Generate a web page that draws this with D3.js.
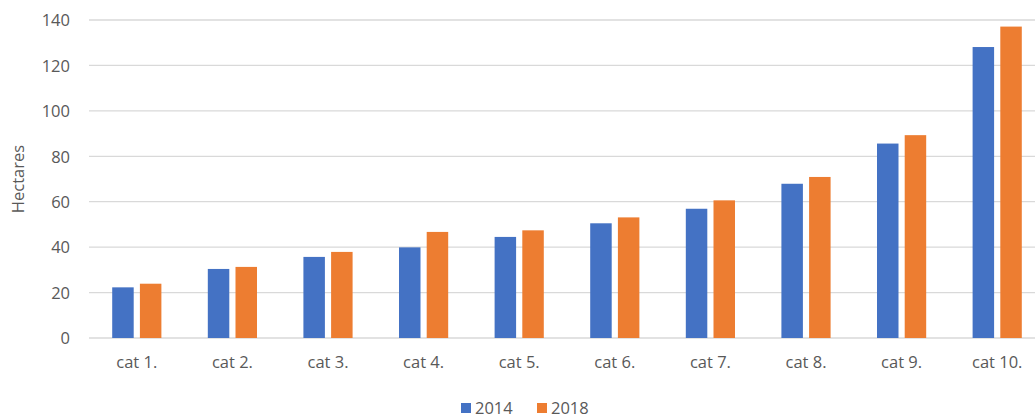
<!DOCTYPE html>
<html>
<head>
<meta charset="utf-8">
<script src="https://cdn.jsdelivr.net/npm/d3@7"></script>
<style>
  html, body { margin: 0; padding: 0; background: #fff; }
  svg { display: block; }
  text { font-family: "Open Sans", "Noto Sans", sans-serif; fill: #595959; }
</style>
</head>
<body>
<svg id="chart" width="1035" height="419"></svg>
<script>
const categories = ["cat 1.", "cat 2.", "cat 3.", "cat 4.", "cat 5.", "cat 6.", "cat 7.", "cat 8.", "cat 9.", "cat 10."];
const seriesNames = ["2014", "2018"];
const values2014 = [22.3, 30.4, 35.7, 39.9, 44.5, 50.5, 56.9, 67.9, 85.6, 128.1];
const values2018 = [23.9, 31.3, 37.9, 46.7, 47.4, 53.1, 60.6, 70.9, 89.3, 137.1];
const yTicks = [0, 20, 40, 60, 80, 100, 120, 140];
const colors = ["#4472C4", "#ED7D31"];

const svg = d3.select("#chart");
const plotLeft = 89, plotRight = 1045, plotTop = 20, plotBottom = 338;
const fontSize = "16.5px";

const x0 = d3.scaleBand().domain(categories).range([plotLeft, plotRight]).padding(0);
const x1 = d3.scaleBand().domain(seriesNames).range([0, x0.bandwidth()])
  .paddingInner(0.224).paddingOuter(0.838);
const y = d3.scaleLinear().domain([0, 140]).range([plotBottom, plotTop]);
const color = d3.scaleOrdinal().domain(seriesNames).range(colors);

// gridlines
svg.append("g")
  .selectAll("line").data(yTicks).join("line")
  .attr("x1", plotLeft).attr("x2", 1035)
  .attr("y1", d => y(d)).attr("y2", d => y(d))
  .attr("stroke", "#d9d9d9").attr("stroke-width", 1.3);

// y axis labels
const yAxis = d3.axisLeft(y).tickValues(yTicks).tickSize(0).tickPadding(0);
const yg = svg.append("g").attr("transform", `translate(70,0)`).call(yAxis);
yg.select(".domain").remove();
yg.selectAll("text").style("font-size", fontSize).attr("fill", "#595959").attr("dy", "0.35em");

// x axis labels
const xAxis = d3.axisBottom(x0).tickSize(0).tickPadding(0);
const xg = svg.append("g").attr("transform", `translate(0,${plotBottom})`).call(xAxis);
xg.select(".domain").remove();
xg.selectAll("text").style("font-size", fontSize).attr("fill", "#595959").attr("y", 24).attr("dy", "0.35em");

// bars
const data = categories.map((c, i) => ({ cat: c, vals: [
  { s: "2014", v: values2014[i] }, { s: "2018", v: values2018[i] } ] }));

svg.append("g").selectAll("g").data(data).join("g")
  .attr("transform", d => `translate(${x0(d.cat)},0)`)
  .selectAll("rect").data(d => d.vals).join("rect")
  .attr("x", d => x1(d.s))
  .attr("width", x1.bandwidth())
  .attr("y", d => y(d.v))
  .attr("height", d => y(0) - y(d.v))
  .attr("fill", d => color(d.s));

// y axis title
svg.append("text")
  .attr("transform", `translate(18,${(plotTop + plotBottom) / 2}) rotate(-90)`)
  .attr("text-anchor", "middle").attr("dy", "0.35em")
  .style("font-size", fontSize).text("Hectares");

// legend
const legendItems = [{ s: "2014", x: 461 }, { s: "2018", x: 537 }];
const lg = svg.append("g");
legendItems.forEach(it => {
  lg.append("rect").attr("x", it.x).attr("y", 403).attr("width", 10).attr("height", 10)
    .attr("fill", color(it.s));
  lg.append("text").attr("x", it.x + 14).attr("y", 408).attr("dy", "0.35em")
    .style("font-size", fontSize).text(it.s);
});
</script>
</body>
</html>
